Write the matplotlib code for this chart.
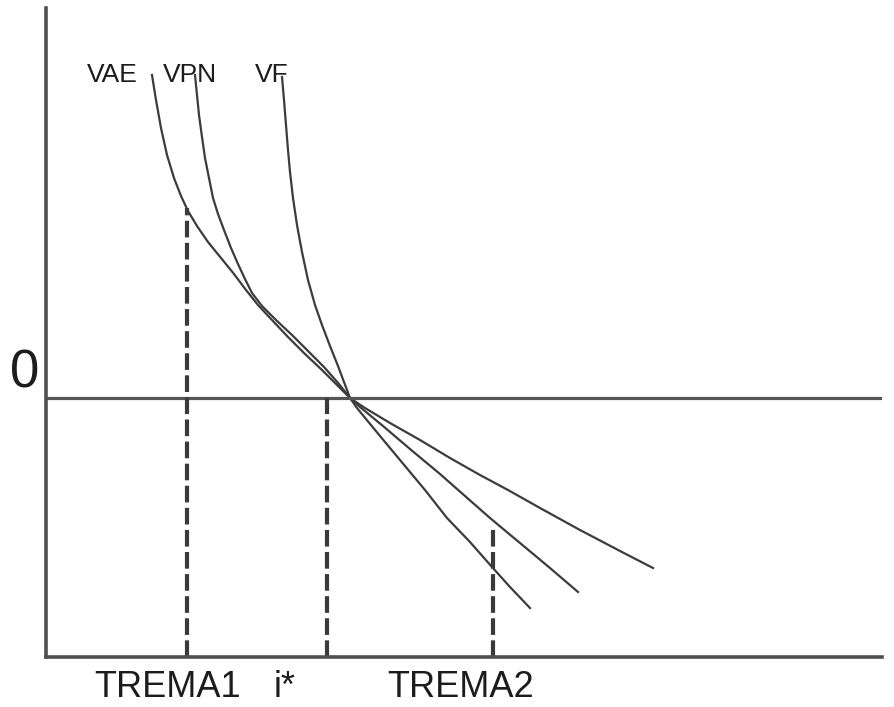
import matplotlib
matplotlib.use("Agg")
import matplotlib.pyplot as plt
from matplotlib import font_manager

# courbes VAE / VPN / VF en fonction du taux (unités arbitraires)
vae_x = [10.6, 11.0, 11.5, 12.1, 12.8, 13.5, 14.2, 15.1, 16.2, 17.5, 18.8, 20.0, 21.2, 22.6, 24.2,
         25.9, 27.6, 29.2, 30.4, 31.9, 34.4, 37.4, 40.4, 43.4, 46.2, 49.4, 53.4, 57.4, 60.7]
vae_y = [32.3, 29.8, 27.0, 24.3, 22.0, 20.2, 18.7, 17.2, 15.6, 14.0, 12.4, 10.8, 9.3, 7.8, 6.1,
         4.4, 2.8, 1.2, 0.0, -1.0, -2.5, -4.2, -6.0, -7.7, -9.2, -11.0, -13.2, -15.3, -17.0]

vpn_x = [14.9, 15.1, 15.3, 15.6, 15.9, 16.3, 16.7, 17.2, 17.8, 18.5, 19.2, 19.9, 20.6, 21.6, 23.0,
         24.6, 26.2, 27.8, 29.3, 30.4, 31.4, 33.7, 36.4, 39.4, 41.9, 44.4, 47.4, 50.4, 53.2]
vpn_y = [32.3, 30.3, 28.3, 26.1, 24.0, 22.0, 20.0, 18.4, 16.8, 15.0, 13.4, 11.9, 10.5, 9.2, 7.8,
         6.3, 4.7, 3.1, 1.4, 0.0, -0.9, -2.8, -5.1, -7.6, -9.8, -12.0, -14.5, -17.0, -19.4]

vf_x = [23.6, 23.8, 24.0, 24.2, 24.4, 24.7, 25.1, 25.6, 26.2, 26.9, 27.6, 28.4, 29.2, 29.8, 30.4,
        31.1, 32.0, 33.9, 35.9, 37.9, 40.1, 42.4, 44.6, 46.4, 48.4]
vf_y = [32.1, 29.8, 27.3, 24.8, 22.6, 20.0, 17.3, 14.6, 11.8, 9.3, 7.3, 5.2, 3.2, 1.6, 0.0,
        -1.0, -2.1, -4.4, -6.8, -9.2, -12.0, -14.4, -16.9, -18.9, -21.0]

# repères en pointillés : TREMA1, i*, TREMA2
marker_labels = ["TREMA1", "i*", "TREMA2"]
marker_x = [14.1, 28.1, 44.7]
marker_top = [19.0, 0.0, -12.9]
label_x = [12.15, 23.9, 41.5]  # centre des étiquettes sous l'axe

x_max = 83.6
y_min, y_max = -25.9, 39.0


def pick_font(names):
    for name in names:
        try:
            font_manager.findfont(name, fallback_to_default=False)
            return name
        except Exception:
            pass
    return "DejaVu Sans"


regular = pick_font(["Liberation Sans", "Arial"])

fig = plt.figure(figsize=(8.95, 7.07), dpi=100)
ax = fig.add_axes([46 / 895, 50 / 707, 836 / 895, 649 / 707])
ax.set_xlim(0, x_max)
ax.set_ylim(y_min, y_max)

line_col = "#3c3c3c"
ax.plot(vae_x, vae_y, color=line_col, lw=1.6)
ax.plot(vpn_x, vpn_y, color=line_col, lw=1.6)
ax.plot(vf_x, vf_y, color=line_col, lw=1.6)

ax.axhline(0, color="#555555", lw=2.3)
ax.vlines(marker_x, y_min, marker_top, colors="#3a3a3a", lw=3, linestyles=[(0, (4, 1.3))])

# axes
for side in ["top", "right"]:
    ax.spines[side].set_visible(False)
for side in ["left", "bottom"]:
    ax.spines[side].set_color("#505050")
    ax.spines[side].set_linewidth(2.6)
ax.set_xticks([])
ax.set_yticks([])

txt = "#1c1c1c"
ax.text(4.1, 31.6, "VAE", fontsize=19, family=regular, color=txt, clip_on=False)
ax.text(11.7, 31.6, "VPN", fontsize=19, family=regular, color=txt, clip_on=False)
ax.text(20.9, 31.6, "VF", fontsize=19, family=regular, color=txt, clip_on=False)

ax.text(-3.6, 1.1, "0", fontsize=38, family=regular, color=txt, clip_on=False)

for lx, lab in zip(label_x, marker_labels):
    ax.text(lx, -29.9, lab, fontsize=26, family=regular, color=txt, ha="center",
            va="baseline", clip_on=False)

fig.savefig("out.png", dpi=100)
